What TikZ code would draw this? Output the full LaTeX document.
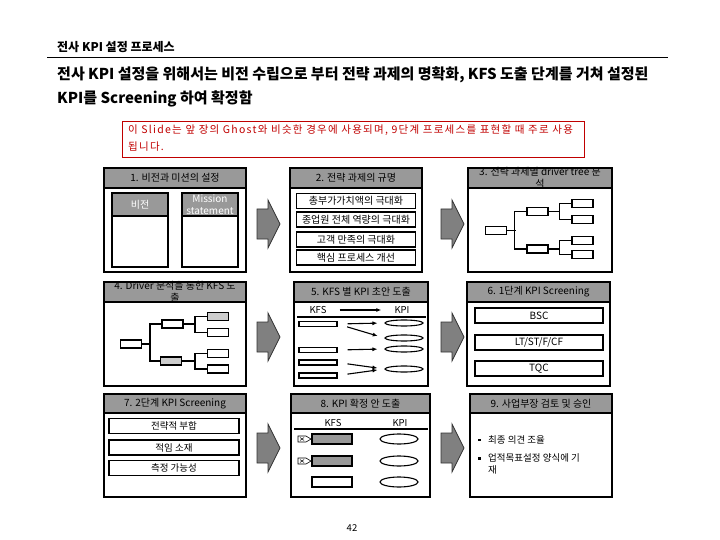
\documentclass[tikz,border=0pt]{standalone}
\usepackage{fontspec}
\setmainfont{Noto Sans CJK KR}
\newfontfamily\notefont{Noto Sans CJK KR}[LetterSpace=12]
\usepackage{tikz}
\usetikzlibrary{shapes.geometric, arrows.meta}
\definecolor{KPIHead}{RGB}{153,153,153}
\definecolor{KPIArrow}{RGB}{128,128,128}
\definecolor{KPILight}{RGB}{205,205,205}
\definecolor{KPIRed}{RGB}{192,0,0}

\tikzset{
  frame/.style={draw=black, line width=1.5pt},
  headtext/.style={font=\fontsize{10}{12}\selectfont, align=center, inner sep=0pt},
  itembox/.style={draw=black, line width=1.3pt, fill=white, minimum height=15, inner sep=0pt, font=\fontsize{10}{11}\selectfont},
  treebox/.style={draw=black, line width=1.2pt, fill=white, minimum width=21, minimum height=8, inner sep=0pt},
  treeline/.style={line width=1.2pt},
  kfsbox/.style={draw=black, line width=1.1pt, fill=white, minimum width=38, minimum height=5, inner sep=0pt},
  kpioval/.style={ellipse, draw=black, line width=1.1pt, fill=white, minimum width=38, minimum height=6, inner sep=0pt},
  flow/.style={line width=1.1pt, -{Latex[length=5pt,width=4pt]}},
  smalltext/.style={font=\fontsize{9.5}{12}\selectfont, inner sep=0pt},
}

\begin{document}
\begin{tikzpicture}[x=1pt,y=-1pt]
  \path[use as bounding box] (0,0) rectangle (720,540);

  % title block
  \node[anchor=west, inner sep=0pt, font=\fontsize{12}{14}\selectfont\bfseries] (title) at (57,47) {전사 KPI 설정 프로세스};
  \draw[line width=1pt] (47,58) -- (668,58);
  \node[anchor=west, align=left, inner sep=0pt, font=\fontsize{15}{24}\selectfont\bfseries] (lead) at (57,87)
    {전사 KPI 설정을 위해서는 비전 수립으로 부터 전략 과제의 명확화, KFS 도출 단계를 거쳐 설정된\\KPI를 Screening 하여 확정함};
  \draw[KPIRed, line width=0.8pt] (122,121) rectangle (584,157);
  \node[anchor=north west, align=left, inner sep=0pt, text=KPIRed, font=\notefont\fontsize{10.5}{17}\selectfont] (note) at (128,125)
    {이 Slide는 앞 장의 Ghost와 비슷한 경우에 사용되며, 9단계 프로세스를 표현할 때 주로 사용\\됩니다.};

  % nine panels
  \foreach \n/\xa/\xb/\ya/\yb/\yc/\txt in {
      1/104/246/168/188/272/{1. 비전과 미션의 설정},
      2/290/422/168/188/272/{2. 전략 과제의 규명},
      3/468/612/168/188/272/{3. 전략 과제별 driver tree 분\\석},
      4/104/246/282/302/386/{4. Driver 분석을 통한 KFS 도\\출},
      5/294/428/282/302/386/{5. KFS 별 KPI 초안 도출},
      6/467/610/282/302/386/{6. 1단계 KPI Screening},
      7/104/246/394/413/497/{7. 2단계 KPI Screening},
      8/291/430/394/413/497/{8. KPI 확정 안 도출},
      9/470/612/394/413/497/{9. 사업부장 검토 및 승인}}{
    \draw[frame, fill=white] (\xa,\ya) rectangle (\xb,\yc);
    \draw[frame, fill=KPIHead] (\xa,\ya) rectangle (\xb,\yb);
    \node[headtext] (head\n) at ({(\xa+\xb)/2},{(\ya+\yb)/2}) {\txt};
  }

  % block arrows between panels
  \foreach \ax/\ay in {257/224, 441/224, 257/337, 441/337, 257/448, 441/448}{
    \draw[fill=KPIArrow, draw=black!80, line width=0.8pt]
      (\ax,{\ay-15}) -- ({\ax+11},{\ay-15}) -- ({\ax+11},{\ay-24}) -- ({\ax+23},\ay)
      -- ({\ax+11},{\ay+24}) -- ({\ax+11},{\ay+15}) -- (\ax,{\ay+15}) -- cycle;
  }

  % 1
  \foreach \n/\xa/\xb/\txt in {a/112/168/비전, b/182/238/{Mission\\statement}}{
    \draw[frame, line width=1.3pt, fill=white] (\xa,193) rectangle (\xb,267);
    \draw[frame, line width=1.3pt, fill=KPIHead] (\xa,193) rectangle (\xb,216);
    \node[headtext, text=white] (vm\n) at ({(\xa+\xb)/2},204.5) {\txt};
  }

  % 2
  \foreach \i/\y/\txt in {1/201/총부가가치액의 극대화, 2/219.5/종업원 전체 역량의 극대화,
                          3/239.5/고객 만족의 극대화, 4/257.5/핵심 프로세스 개선}{
    \node[itembox, minimum width=119] (goal\i) at (356,\y) {\txt};
  }

  % 3
  \node[treebox] (root3) at (496,230.5) {};
  \node[treebox] (ma3) at (537.5,211.5) {};
  \node[treebox] (mb3) at (537.5,249) {};
  \foreach \i/\y in {a/203.5, b/219.5, c/240.5, d/254.5}{
    \node[treebox] (leaf3\i) at (582.5,\y) {};
  }
  \draw[treeline] (root3.east) -- ++(9,0);
  \draw[treeline] (ma3.west) -- ++(-12,0) |- (mb3.west);
  \draw[treeline] (ma3.east) -- ++(11,0);
  \draw[treeline] (mb3.east) -- ++(11,0);
  \draw[treeline] (leaf3a.west) -- ++(-12,0) |- (leaf3b.west);
  \draw[treeline] (leaf3c.west) -- ++(-12,0) |- (leaf3d.west);

  % 4
  \node[treebox] (root4) at (131,344) {};
  \node[treebox] (ma4) at (172.5,324) {};
  \node[treebox, fill=KPILight] (mb4) at (171,361) {};
  \node[treebox, fill=KPILight] (leaf4a) at (218,316.5) {};
  \node[treebox] (leaf4b) at (218,332.5) {};
  \node[treebox] (leaf4c) at (218,353.5) {};
  \node[treebox] (leaf4d) at (218,369) {};
  \draw[treeline] (root4.east) -- (150,344);
  \draw[treeline] (ma4.west) -| (150,361) -- (mb4.west);
  \draw[treeline] (ma4.east) -- (195,324);
  \draw[treeline] (mb4.east) -- (195,361);
  \draw[treeline] (leaf4a.west) -- ++(-12,0) |- (leaf4b.west);
  \draw[treeline] (leaf4c.west) -- ++(-12,0) |- (leaf4d.west);

  % 5
  \node[smalltext] (kfs5) at (318,310) {KFS};
  \node[smalltext] (kpi5) at (402,310) {KPI};
  \draw[flow, shorten <=13pt, shorten >=13pt] (kfs5) -- (kpi5);
  \draw[line width=1.3pt] (297,317) -- (426,317);
  \foreach \i/\y in {1/324, 2/350, 3/362.5, 4/375.5}{
    \node[kfsbox] (kfs5\i) at (318,\y) {};
  }
  \foreach \i/\y in {1/323, 2/338, 3/349, 4/369}{
    \node[kpioval] (kpi5\i) at (404,\y) {};
  }
  \foreach \a/\b in {1/1, 1/2, 2/3, 3/4, 4/4}{
    \draw[flow, shorten <=10pt, shorten >=7pt] (kfs5\a.east) -- (kpi5\b.west);
  }

  % 6
  \foreach \i/\y/\txt in {1/315.5/BSC, 2/342.5/{LT/ST/F/CF}, 3/368.5/TQC}{
    \node[itembox, minimum width=128] (scr\i) at (539,\y) {\txt};
  }

  % 7
  \foreach \i/\y/\txt in {1/426/전략적 부합, 2/447.5/적임 소재, 3/468/측정 가능성}{
    \node[itembox, minimum width=130, font=\fontsize{9.5}{11}\selectfont] (chk\i) at (174,\y) {\txt};
  }

  % 8
  \node[smalltext] (kfs8) at (333,423) {KFS};
  \node[smalltext] (kpi8) at (400,423) {KPI};
  \draw[line width=1.3pt] (294,429) -- (428,429);
  \foreach \i/\y/\c in {1/439/KPIHead, 2/461/KPIHead, 3/482/white}{
    \node[draw=black, line width=1.1pt, fill=\c, minimum width=40, minimum height=10, inner sep=0pt] (kfs8\i) at (332,\y) {};
    \node[kpioval, minimum height=10] (kpi8\i) at (399,\y) {};
  }
  \foreach \y in {439,461}{
    \draw[line width=0.6pt] (298,{\y-3}) -- (306,{\y-3}) -- (311,\y) -- (306,{\y+3}) -- (298,{\y+3}) -- cycle;
    \draw[line width=0.5pt] (300,{\y-1.5}) -- (304,{\y+1.5}) (300,{\y+1.5}) -- (304,{\y-1.5});
  }

  % 9
  \fill (478,441) rectangle ++(2.5,-2.5);
  \fill (478,459.5) rectangle ++(2.5,-2.5);
  \node[smalltext, anchor=west] (appr1) at (488,440) {최종 의견 조율};
  \node[smalltext, anchor=north west, align=left] (appr2) at (488,453) {업적목표설정 양식에 기\\재};

  \node[smalltext] (page) at (352,528) {42};
\end{tikzpicture}
\end{document}
